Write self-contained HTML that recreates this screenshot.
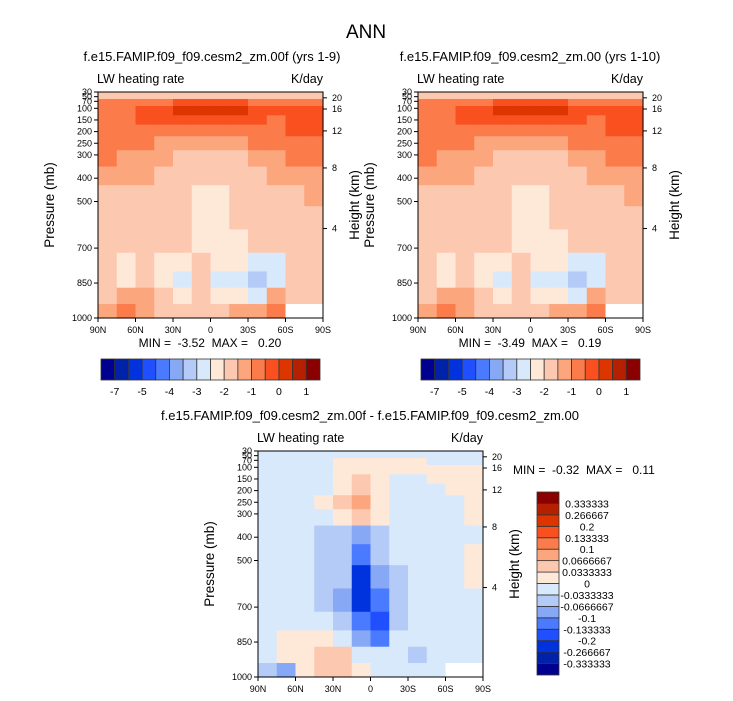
<!DOCTYPE html>
<html><head><meta charset="utf-8"><style>
body{margin:0;background:#fff;width:733px;height:701px;overflow:hidden}
svg{display:block;font-family:"Liberation Sans",sans-serif}
text{white-space:pre}
</style></head><body>
<svg id="s" width="733" height="701" viewBox="0 0 733 701"></svg>
<script>
const colors=["#000090","#0022a8","#0033dd","#1f4fff","#4a7aff","#86a8f5","#b5cbf7","#d8e9fb","#fee9d9","#fdc8b0","#fca67e","#fb7b4b","#f9501f","#dd3500","#b52000","#8a0000"];
const levelsTop=[-7,-6,-5,-4.5,-4,-3.5,-3,-2.5,-2,-1.5,-1,-0.5,0,0.5,1];
const levelLabelsTop=["-7","","-5","","-4","","-3","","-2","","-1","","0","","1"];
const levelsDiff=[-0.333333,-0.266667,-0.2,-0.133333,-0.1,-0.0666667,-0.0333333,0,0.0333333,0.0666667,0.1,0.133333,0.2,0.266667,0.333333];
const levelLabelsDiff=["-0.333333","-0.266667","-0.2","-0.133333","-0.1","-0.0666667","-0.0333333","0","0.0333333","0.0666667","0.1","0.133333","0.2","0.266667","0.333333"];
const latEdges=[90,75,60,45,30,15,0,-15,-30,-45,-60,-75,-90];
const presEdges=[30,60,90,130,170,220,280,350,430,520,620,720,800,870,940,1000];
const pTicks=[30,50,70,100,150,200,250,300,400,500,700,850,1000];
const latTicks=[90,60,30,0,-30,-60,-90];
const latLabels=["90N","60N","30N","0","30S","60S","90S"];
const hTicks=[{h:20,p:55},{h:16,p:103},{h:12,p:197},{h:8,p:356},{h:4,p:616}];
// field values (K/day), rows top->bottom, cols 90N->90S; null = missing
const fieldA=[
[-1.7,-1.7,-1.7,-1.7,-1.7,-1.7,-1.7,-1.7,-1.7,-1.7,-1.7,-1.7],
[-0.7,-0.7,-0.7,-0.7,-0.2,-0.2,-0.2,-0.2,-0.7,-0.7,-0.7,-0.7],
[-0.7,-0.7,-0.2,-0.2,0.2,0.2,0.2,0.2,-0.2,-0.2,-0.2,-0.2],
[-0.7,-0.7,-0.2,-0.2,-0.2,-0.2,-0.2,-0.2,-0.2,-0.7,-0.2,-0.2],
[-0.7,-0.7,-0.7,-0.7,-0.7,-0.7,-0.7,-0.7,-0.7,-0.7,-0.2,-0.2],
[-0.7,-0.7,-0.7,-1.2,-1.2,-1.2,-1.2,-1.2,-0.7,-0.7,-0.7,-0.7],
[-0.7,-1.2,-1.2,-1.2,-1.7,-1.7,-1.7,-1.7,-1.2,-1.2,-0.7,-0.7],
[-1.2,-1.2,-1.2,-1.7,-1.7,-1.7,-1.7,-1.7,-1.7,-1.2,-1.2,-1.2],
[-1.7,-1.7,-1.7,-1.7,-1.7,-2.2,-2.2,-1.7,-1.7,-1.7,-1.7,-1.2],
[-1.7,-1.7,-1.7,-1.7,-1.7,-2.2,-2.2,-1.7,-1.7,-1.7,-1.7,-1.7],
[-1.7,-1.7,-1.7,-1.7,-1.7,-2.2,-2.2,-2.2,-1.7,-1.7,-1.7,-1.7],
[-1.7,-2.2,-1.7,-2.2,-2.2,-1.7,-2.2,-2.2,-2.7,-2.7,-1.7,-1.7],
[-1.7,-2.2,-1.7,-2.2,-2.7,-1.7,-2.7,-2.7,-3.2,-2.7,-1.7,-1.7],
[-1.7,-1.2,-1.2,-1.7,-2.2,-1.7,-2.2,-2.2,-2.7,-1.2,-1.7,-1.7],
[-1.2,-0.7,-1.2,-1.7,-1.7,-1.7,-1.7,-1.2,-1.2,-0.7,null,null]];
const fieldB=fieldA;
const fieldDiff=[
[-0.02,-0.02,-0.02,-0.02,-0.02,-0.02,-0.02,-0.02,-0.02,-0.02,-0.02,-0.02],
[-0.02,-0.02,-0.02,-0.02,0.02,0.02,0.02,0.02,0.02,-0.02,-0.02,-0.02],
[-0.02,-0.02,-0.02,-0.02,0.02,0.02,0.02,0.02,0.02,0.02,0.02,0.02],
[-0.02,-0.02,-0.02,-0.02,0.02,0.05,0.02,-0.02,-0.02,0.02,0.02,0.02],
[-0.02,-0.02,-0.02,-0.02,0.02,0.05,0.02,-0.02,-0.02,-0.02,0.02,0.02],
[-0.02,-0.02,-0.02,0.02,0.05,0.08,0.02,-0.02,-0.02,-0.02,-0.02,0.02],
[-0.02,-0.02,-0.02,-0.02,0.02,0.05,0.02,-0.02,-0.02,-0.02,-0.02,0.02],
[-0.02,-0.02,-0.02,-0.05,-0.05,-0.08,-0.05,-0.02,-0.02,-0.02,-0.02,-0.02],
[-0.02,-0.02,-0.02,-0.05,-0.05,-0.12,-0.05,-0.02,-0.02,-0.02,-0.02,0.02],
[-0.02,-0.02,-0.02,-0.05,-0.05,-0.23,-0.08,-0.05,-0.02,-0.02,-0.02,0.02],
[-0.02,-0.02,-0.02,-0.05,-0.08,-0.23,-0.12,-0.05,-0.02,-0.02,-0.02,-0.02],
[-0.02,-0.02,-0.02,-0.02,-0.05,-0.12,-0.17,-0.05,-0.02,-0.02,-0.02,-0.02],
[-0.02,0.02,0.02,0.02,-0.02,-0.08,-0.12,-0.02,-0.02,-0.02,-0.02,-0.02],
[-0.02,0.02,0.02,0.05,0.05,-0.02,-0.02,-0.02,-0.05,-0.02,-0.02,-0.02],
[-0.05,-0.08,0.02,0.05,0.05,0.02,-0.02,-0.02,-0.02,-0.02,null,null]];

const NS="http://www.w3.org/2000/svg";
const svg=document.getElementById('s');
function mk(tag,attrs,parent){const e=document.createElementNS(NS,tag);for(const k in attrs)e.setAttribute(k,attrs[k]);(parent||svg).appendChild(e);return e;}
function txt(x,y,s,size,anchor,parent,extra){const t=mk('text',Object.assign({x:x,y:y,'font-size':size,'text-anchor':anchor||'middle',fill:'#000'},extra||{}),parent);t.textContent=s;return t;}
function colorFor(v,levels){let i=0;while(i<levels.length&&v>=levels[i])i++;return colors[i];}

function panel(name,x0,y0,w,h,field,levels,title,cx){
  const g=mk('g',{});
  
  
  const xs=lat=>x0+(90-lat)/180*w;
  const ys=p=>y0+(p-30)/970*h;
  txt(cx,y0-31,title,13,'middle',g);
  const l1=txt(x0-1,y0-9,'LW heating rate',12.5,'start',g);
  const l2=txt(x0+w,y0-9,'K/day',12.5,'end',g);
  const cg=mk('g',{},g);
  
  
  for(let r=0;r<field.length;r++)for(let c=0;c<field[r].length;c++){
    const v=field[r][c];
    const xa=xs(latEdges[c]),xb=xs(latEdges[c+1]),ya=ys(presEdges[r]),yb=ys(presEdges[r+1]);
    const fill=v===null?'#fff':colorFor(v,levels);
    const rc=mk('rect',{x:xa,y:ya,width:xb-xa+0.6,height:yb-ya+0.6,fill:fill},cg);
    
  }
  mk('rect',{x:x0,y:y0,width:w,height:h,fill:'none',stroke:'#000','stroke-width':1},g);
  pTicks.forEach(p=>{const y=ys(p);mk('line',{x1:x0-4,y1:y,x2:x0,y2:y,stroke:'#000'},g);
    const t=txt(x0-6,y+3,String(p),9,'end',g);});
  latTicks.forEach((l,i)=>{const x=xs(l);mk('line',{x1:x,y1:y0+h,x2:x,y2:y0+h+4,stroke:'#000'},g);
    const t=txt(x,y0+h+15,latLabels[i],9,'middle',g);});
  hTicks.forEach(o=>{const y=ys(o.p);mk('line',{x1:x0+w,y1:y,x2:x0+w+4,y2:y,stroke:'#000'},g);
    const t=txt(x0+w+9,y+3,String(o.h),9,'start',g);});
  const ya=txt(0,0,'Pressure (mb)',13.5,'middle',g,{transform:`translate(${x0-44},${y0+h/2}) rotate(-90)`});
  const yb=txt(0,0,'Height (km)',13.5,'middle',g,{transform:`translate(${x0+w+36},${y0+h/2}) rotate(-90)`});
  return g;
}
const tt=txt(366,38,'ANN',19,'middle');
panel('panel-yrs-1-9',98,92,225,226,fieldA,levelsTop,'f.e15.FAMIP.f09_f09.cesm2_zm.00f (yrs 1-9)',212);
panel('panel-yrs-1-10',418,92,225,226,fieldB,levelsTop,'f.e15.FAMIP.f09_f09.cesm2_zm.00 (yrs 1-10)',530);
panel('panel-difference',258,451,225,226,fieldDiff,levelsDiff,'f.e15.FAMIP.f09_f09.cesm2_zm.00f - f.e15.FAMIP.f09_f09.cesm2_zm.00',370);
const m1=txt(210,347,'MIN =  -3.52  MAX =   0.20',12);
const m2=txt(530,347,'MIN =  -3.49  MAX =   0.19',12);
const m3=txt(513,474,'MIN =  -0.32  MAX =   0.11',12,'start');

function hbar(x0,name){
  const g=mk('g',{});
  const w=219/16;
  colors.forEach((c,i)=>{const r=mk('rect',{x:x0+i*w,y:359,width:w,height:21,fill:c,stroke:'#333','stroke-width':0.8},g);});
  levelLabelsTop.forEach((s,i)=>{if(s){const t=txt(x0+(i+1)*w,395,s,10.5,'middle',g);}});
}
hbar(101,'colorbar-top-left');hbar(421,'colorbar-top-right');
(function(){
  const g=mk('g',{});
  const h=183/16;
  colors.forEach((c,i)=>{const r=mk('rect',{x:537,y:675-(i+1)*h,width:22,height:h,fill:c,stroke:'#333','stroke-width':0.8},g);});
  levelLabelsDiff.forEach((s,i)=>{const t=txt(587,675-(i+1)*h+4,s,10.5,'middle',g);});
})();
</script>
</body></html>
